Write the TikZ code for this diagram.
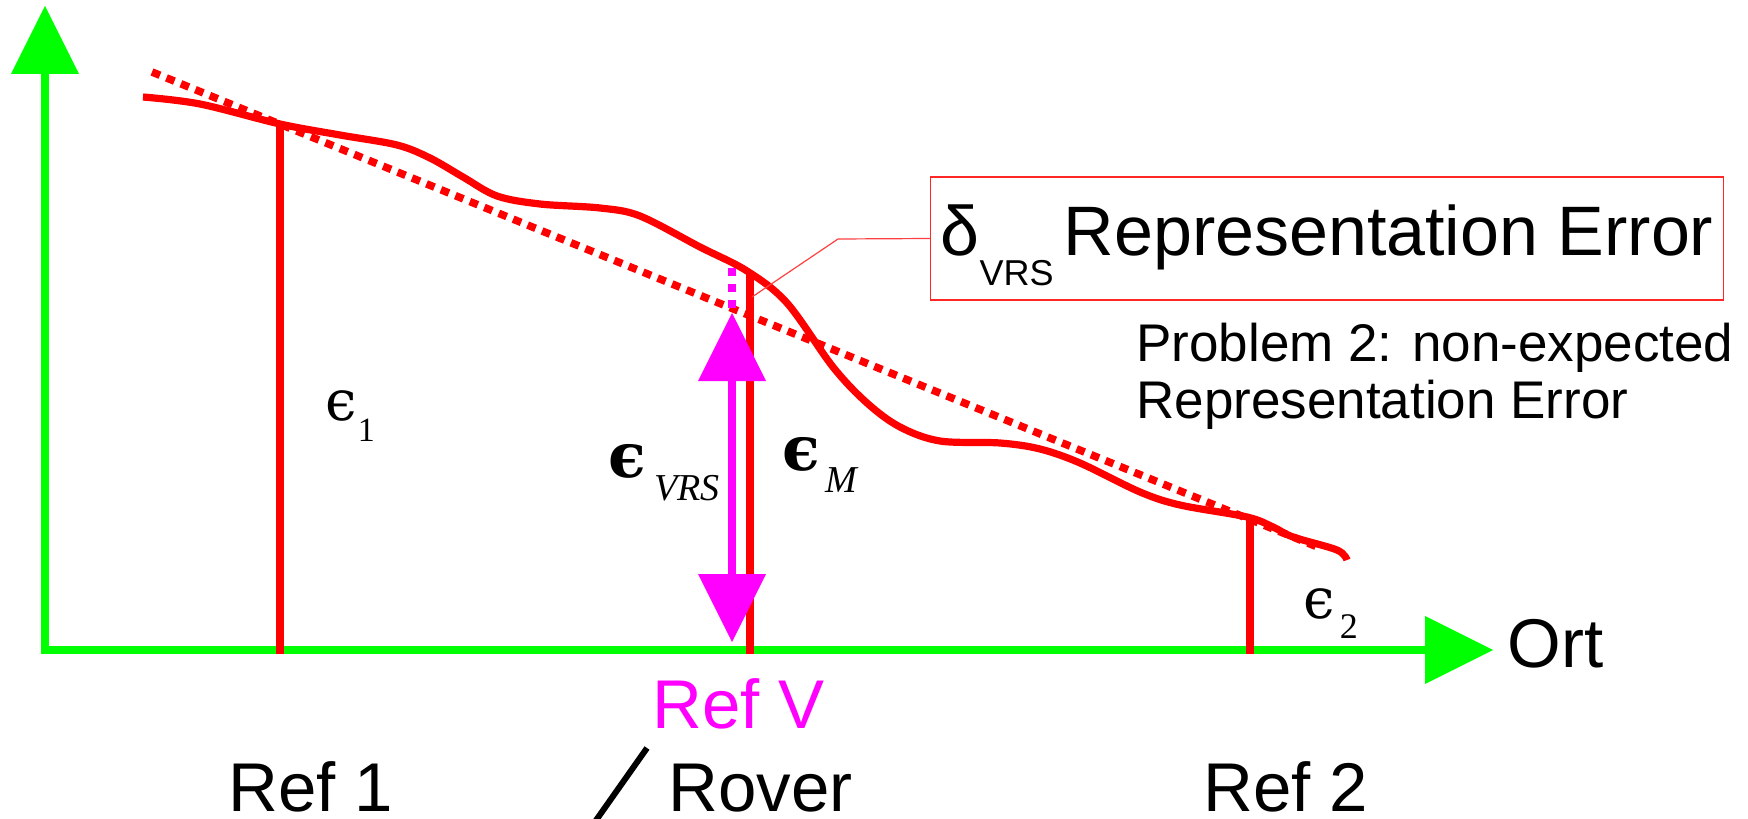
\documentclass[tikz,border=0pt]{standalone}
\usepackage{fontspec}
\setmainfont{Liberation Sans}
\newfontfamily\subserif{Liberation Serif}
\newfontfamily\epsserif{DejaVu Serif}
\usepackage{tikz}
\usetikzlibrary{arrows.meta}
\definecolor{axisgreen}{HTML}{00FF00}
\definecolor{curvered}{HTML}{FF0000}
\definecolor{vrsmagenta}{HTML}{FF00FF}
\tikzset{
  axisline/.style={draw=axisgreen, line width=4pt, line cap=rect,
                   -{Triangle[length=34pt, width=34pt, line width=0pt]}},
  measured/.style={draw=curvered, line width=3.6pt, line join=round},
  trend/.style={draw=curvered, line width=3.8pt, dash pattern=on 4.3pt off 3.5pt},
  errbar/.style={draw=curvered, line width=3.6pt},
  vrsarrow/.style={draw=vrsmagenta, line width=3.8pt,
                   {Triangle[length=34pt, width=34pt, line width=0pt]}-{Triangle[length=34pt, width=34pt, line width=0pt]}},
  vrsdots/.style={draw=vrsmagenta, line width=3.8pt, dash pattern=on 3.8pt off 4.2pt},
  leader/.style={draw=curvered!75, line width=0.6pt},
  errbox/.style={draw=curvered!85, line width=0.7pt, inner xsep=5pt, inner ysep=0pt,
                 text height=39.5pt, text depth=22pt,
                 font=\fontsize{35}{40}\selectfont},
  bigtxt/.style={inner sep=0pt, anchor=base west, font=\fontsize{34.5}{40}\selectfont},
  midtxt/.style={inner sep=0pt, anchor=base west, font=\fontsize{26.5}{30}\selectfont},
  epslbl/.style={inner sep=0pt, anchor=base west, font=\epsserif\fontsize{28}{34}\selectfont},
  epsbold/.style={epslbl, font=\epsserif\bfseries\fontsize{31}{36}\selectfont}
}

\begin{document}
\begin{tikzpicture}[x=0.5pt, y=-0.5pt]
\useasboundingbox (0,0) rectangle (1748,818);

% axes
\coordinate (orig) at (45,650);
\coordinate (ytip) at (45,6);
\coordinate (xtip) at (1493,650);
\draw[axisline] (orig) -- (ytip);
\draw[axisline] (orig) -- (xtip);
\node[bigtxt] (ort) at (1507,667) {Ort};

% linear interpolation between the references
\coordinate (trendA) at (152,72);
\coordinate (trendB) at (1320,548);
\draw[trend] (trendA) -- (trendB);

% real error along the baseline
\draw[measured] plot[smooth, tension=0.55] coordinates {
  (143,97) (200,104) (280,124) (340,135) (397,145) (430,158) (463,177)
  (497,196) (540,204) (600,208) (640,216) (700,247) (747,271) (787,303)
  (833,367) (867,403) (900,427) (940,441) (1000,443) (1040,449) (1080,463)
  (1140,492) (1180,505) (1247,517) (1273,527) (1293,537) (1337,550) (1347,560)};

% error bars at the stations
\coordinate (ref1top) at (280,124);
\coordinate (ref1foot) at (280,654);
\coordinate (rovtop) at (750,272);
\coordinate (rovfoot) at (750,654);
\coordinate (ref2top) at (1250,518);
\coordinate (ref2foot) at (1250,654);
\draw[errbar] (ref1top) -- (ref1foot);
\draw[errbar] (rovtop) -- (rovfoot);
\draw[errbar] (ref2top) -- (ref2foot);

% interpolated error at the virtual station
\coordinate (vrsdotA) at (732,268);
\coordinate (vrsdotB) at (732,309);
\coordinate (vrsup) at (732,313);
\coordinate (vrsdown) at (732,642);
\draw[vrsdots] (vrsdotA) -- (vrsdotB);
\draw[vrsarrow] (vrsdown) -- (vrsup);

% labels
\node[epslbl] (eps1) at (325,420)
  {ϵ\hspace{0.5pt}\raisebox{-10.5pt}{\subserif\fontsize{17}{17}\selectfont 1}};
\node[epsbold] (epsvrs) at (608,477)
  {ϵ\hspace{4pt}\raisebox{-11.5pt}{\subserif\mdseries\itshape\fontsize{19}{19}\selectfont VRS}};
\node[epsbold] (epsm) at (782,470)
  {ϵ\hspace{2.5pt}\raisebox{-11pt}{\subserif\mdseries\itshape\fontsize{19}{19}\selectfont M}};
\node[epslbl] (eps2) at (1303,618)
  {ϵ\hspace{2.5pt}\raisebox{-10pt}{\subserif\fontsize{18}{18}\selectfont 2}};

\node[errbox, anchor=base west] (repbox) at (930,256)
  {δ\raisebox{-14.5pt}{\fontsize{18}{18}\selectfont VRS}\hspace{5pt}Representation Error};
\coordinate (leadfoot) at (752,297);
\coordinate (leadknee) at (838,239);
\draw[leader] (leadfoot) -- (leadknee) -- (repbox.west);

\node[midtxt] (prob1) at (1136,361) {Problem 2: non-expected};
\node[midtxt] (prob2) at (1136,418) {Representation Error};

\node[bigtxt] (ref1) at (228,811) {Ref 1};
\node[bigtxt, text=vrsmagenta] (refv) at (652,728) {Ref V};
\node[bigtxt] (rover) at (668,811) {Rover};
\node[bigtxt] (ref2) at (1203,811) {Ref 2};
\coordinate (slashtop) at (647,748);
\coordinate (slashbot) at (592,826);
\draw[line width=3pt] (slashtop) -- (slashbot);
\end{tikzpicture}
\end{document}
